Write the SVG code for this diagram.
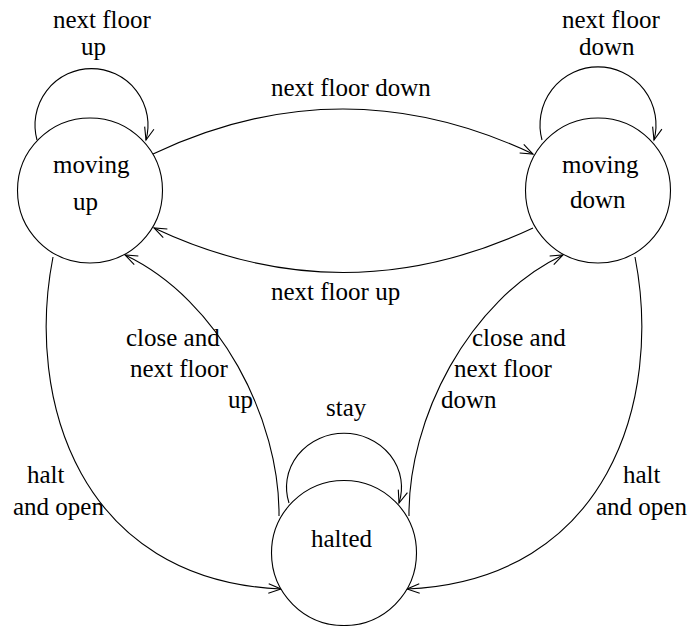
<svg xmlns="http://www.w3.org/2000/svg" width="688" height="626" viewBox="0 0 688 626">
  <style>
    .state { fill: #ffffff; stroke: #000000; stroke-width: 1.1; }
    .edge { fill: none; stroke: #000000; stroke-width: 1.1; marker-end: url(#arrow); }
    .lbl { font-family: "Liberation Serif", "Times New Roman", serif; font-size: 25px; fill: #000000; }
  </style>
  <defs>
    <marker id="arrow" markerUnits="userSpaceOnUse" markerWidth="16" markerHeight="12" viewBox="-14 -6 16 12" refX="0" refY="0" orient="auto" overflow="visible">
      <path d="M -12.5 -4.8 L 0 0 L -12.5 4.8" fill="none" stroke="#000000" stroke-width="1.1"/>
    </marker>
  </defs>

  <rect width="688" height="626" fill="#ffffff"/>

  <!-- transitions -->
  <g id="connectors">
    <!-- self loops -->
    <path class="edge" d="M 37 140 A 56.5 56.5 0 1 1 146 140"/>
    <path class="edge" d="M 542 140 A 58 58 0 1 1 654 140"/>
    <path class="edge" d="M 289 503 A 57.5 54 0 1 1 399 503"/>
    <!-- between moving states -->
    <path class="edge" d="M 153 154 Q 343 64 533 154"/>
    <path class="edge" d="M 533 228 Q 343 317 154 228"/>
    <!-- halt and open -->
    <path class="edge" d="M 53 257 C 25 400, 80 580, 281 589"/>
    <path class="edge" d="M 635 257 C 663 400, 608 580, 407 589"/>
    <!-- close and next floor -->
    <path class="edge" d="M 279 516 C 280 420, 220 300, 125 255"/>
    <path class="edge" d="M 409 516 C 408 420, 468 300, 563 255"/>
  </g>

  <g id="moving-up">
    <circle class="state" cx="90" cy="190.5" r="72.5"/>
    <text class="lbl" x="53" y="173">moving</text>
    <text class="lbl" x="73" y="210">up</text>
  </g>

  <g id="moving-down">
    <circle class="state" cx="598" cy="190.5" r="72.5"/>
    <text class="lbl" x="562" y="173">moving</text>
    <text class="lbl" x="570" y="208">down</text>
  </g>

  <g id="halted">
    <circle class="state" cx="344" cy="553" r="72.5"/>
    <text class="lbl" x="311" y="547">halted</text>
  </g>

  <!-- transition labels -->
  <g id="labels">
    <text class="lbl" x="53" y="28">next floor</text>
    <text class="lbl" x="81" y="55">up</text>
    <text class="lbl" x="562" y="28">next floor</text>
    <text class="lbl" x="579" y="55">down</text>
    <text class="lbl" x="271" y="96">next floor down</text>
    <text class="lbl" x="271" y="300">next floor up</text>
    <text class="lbl" x="126" y="346">close and</text>
    <text class="lbl" x="130" y="377">next floor</text>
    <text class="lbl" x="228" y="408">up</text>
    <text class="lbl" x="472" y="346">close and</text>
    <text class="lbl" x="454" y="377">next floor</text>
    <text class="lbl" x="441" y="408">down</text>
    <text class="lbl" x="326" y="416">stay</text>
    <text class="lbl" x="27" y="483">halt</text>
    <text class="lbl" x="13" y="515">and open</text>
    <text class="lbl" x="623" y="483">halt</text>
    <text class="lbl" x="596" y="515">and open</text>
  </g>
</svg>
